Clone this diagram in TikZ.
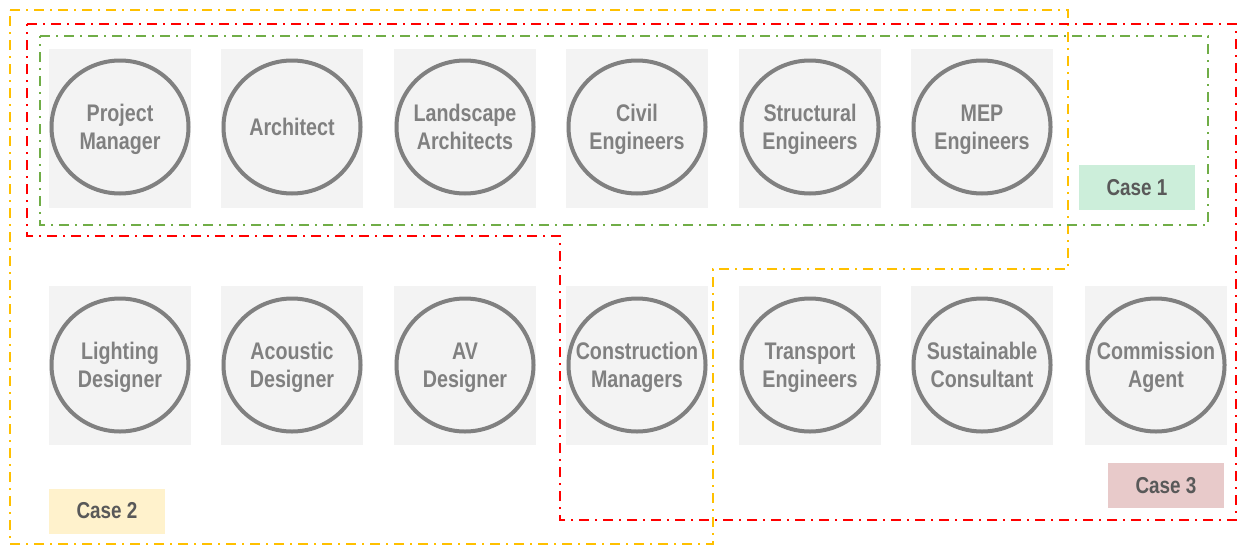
\documentclass[tikz,border=0pt]{standalone}
\usepackage{fontspec}
\setmainfont{Liberation Sans}[FakeStretch=0.82]
\usepackage{tikz}
\usetikzlibrary{shapes.geometric}

\definecolor{tilegray}{HTML}{F3F3F3}
\definecolor{ringgray}{HTML}{808080}
\definecolor{casetext}{HTML}{595959}
\definecolor{caseonefill}{HTML}{CCEEDA}
\definecolor{casetwofill}{HTML}{FFF2CC}
\definecolor{casethreefill}{HTML}{E8CACA}
\definecolor{caseoneline}{HTML}{70AD47}
\definecolor{casetwoline}{HTML}{FFC000}
\definecolor{casethreeline}{HTML}{FF0000}

\begin{document}
\begin{tikzpicture}[x=1pt,y=-1pt]
    \tikzset{tile/.style={rectangle, fill=tilegray, minimum width=142pt, minimum height=159pt, inner sep=0pt}};
    \tikzset{role/.style={ellipse, draw=ringgray, line width=4pt, minimum width=137pt, minimum height=133pt, inner xsep=-22pt, inner ysep=0pt, align=center, text height=50pt, text depth=5pt, text=ringgray, font=\fontsize{24}{28}\selectfont\bfseries}};
    \tikzset{oneline/.style={text height=20pt, text depth=3pt}};
    \tikzset{casebox/.style={rectangle, minimum width=116pt, minimum height=45pt, inner sep=0pt, text=casetext, font=\fontsize{23}{26}\selectfont\bfseries}};
    \tikzset{caseline/.style={line width=2pt, dash pattern=on 10pt off 6pt on 2pt off 6pt}};
\useasboundingbox (0,0) rectangle (1238,546);
%%
\draw [caseline, casetwoline] (10,10) -- (1068,10) -- (1068,269) -- (713,269) -- (713,544) -- (10,544) -- cycle;
\draw [caseline, casethreeline] (27,24) -- (1236,24) -- (1236,520) -- (560,520) -- (560,236) -- (27,236) -- cycle;
\draw [caseline, caseoneline] (40,36) -- (1208,36) -- (1208,225) -- (40,225) -- cycle;
%%
\node (pmt) at (120,128) [tile] {};
  \node (archt) at (292,128) [tile] {};
  \node (landt) at (465,128) [tile] {};
  \node (civilt) at (637,128) [tile] {};
  \node (structt) at (810,128) [tile] {};
  \node (mept) at (982,128) [tile] {};
  \node (lightt) at (120,365.5) [tile] {};
  \node (acout) at (292,365.5) [tile] {};
  \node (avt) at (465,365.5) [tile] {};
  \node (cmt) at (637,365.5) [tile] {};
  \node (transt) at (810,365.5) [tile] {};
  \node (sustt) at (982,365.5) [tile] {};
  \node (commt) at (1156,365.5) [tile] {};

  \node (pm) at (120,127) [role] {Project\\Manager};
  \node (arch) at (292,127) [role, oneline] {Architect};
  \node (land) at (465,127) [role] {Landscape\\Architects};
  \node (civil) at (637,127) [role] {Civil\\Engineers};
  \node (struct) at (810,127) [role] {Structural\\Engineers};
  \node (mep) at (982,127) [role] {MEP\\Engineers};
  \node (light) at (120,365) [role] {Lighting\\Designer};
  \node (acou) at (292,365) [role] {Acoustic\\Designer};
  \node (av) at (465,365) [role] {AV\\Designer};
  \node (cm) at (637,365) [role] {Construction\\Managers};
  \node (trans) at (810,365) [role] {Transport\\Engineers};
  \node (sust) at (982,365) [role] {Sustainable\\Consultant};
  \node (comm) at (1156,365) [role] {Commission\\Agent};

  \node (caseone) at (1137,187.5) [casebox, fill=caseonefill] {Case 1};
  \node (casetwo) at (107,511) [casebox, fill=casetwofill] {Case 2};
  \node (casethree) at (1166,485.5) [casebox, fill=casethreefill] {Case 3};
  %
\end{tikzpicture}
\end{document}
